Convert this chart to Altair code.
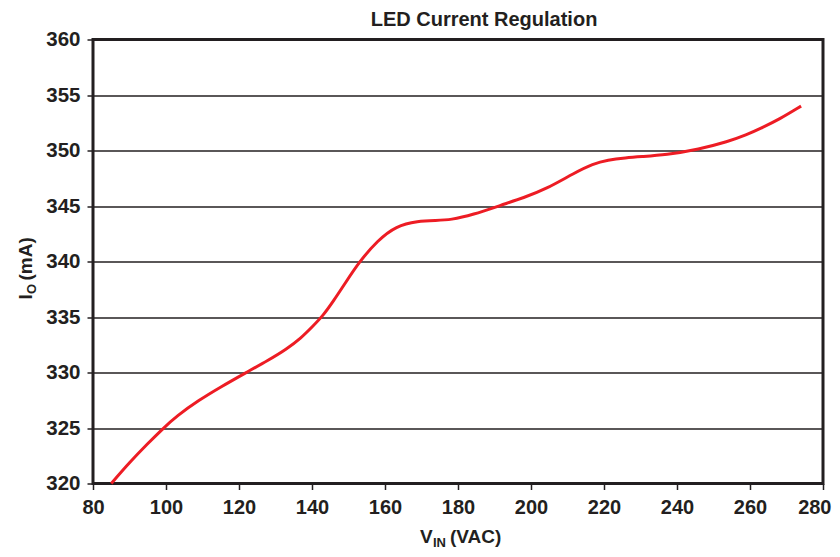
import altair as alt
import pandas as pd

# ---- data ----
vin = [85, 90, 95, 99, 103, 109, 115, 122, 128, 133, 137, 140, 143, 146, 149,
       153, 158, 163, 169, 174, 178, 184, 192, 198, 204, 212, 217, 221, 226,
       230, 237, 246, 254, 259, 263, 268, 274]
io = [320.0, 321.9, 323.6, 324.9, 326.1, 327.5, 328.7, 330.0, 331.1, 332.1,
      333.1, 334.1, 335.1, 336.5, 338.0, 340.0, 341.9, 343.2, 343.65, 343.7,
      343.75, 344.2, 345.1, 345.75, 346.5, 348.0, 348.8, 349.15, 349.35, 349.45,
      349.6, 350.1, 350.8, 351.4, 352.0, 352.8, 354.0]
x_ticks = [80, 100, 120, 140, 160, 180, 200, 220, 240, 260, 280]
y_ticks = [320, 325, 330, 335, 340, 345, 350, 355, 360]

title_text = "LED Current Regulation"
FONT = "Liberation Sans"
INK = "#231f20"

df = pd.DataFrame({"vin": vin, "io": io})

W, H = 730, 444

x_enc = alt.X("vin:Q",
              scale=alt.Scale(domain=[80, 280], nice=False, zero=False),
              axis=alt.Axis(values=x_ticks, title=None, grid=False,
                            labelFontSize=20, labelFontWeight="bold",
                            labelFont=FONT, labelColor=INK, labelFlush=False,
                            labelOverlap=False,
                            labelAlign=alt.ExprRef(expr="datum.value == 280 ? 'right' : 'center'"),
                            labelOffset=alt.ExprRef(expr="datum.value == 280 ? 8 : 0"),
                            tickSize=6, tickWidth=1.5, tickColor=INK,
                            labelPadding=8, domain=False))
y_enc = alt.Y("io:Q",
              scale=alt.Scale(domain=[320, 360], nice=False, zero=False),
              axis=alt.Axis(values=y_ticks, title=None, grid=True,
                            gridColor=INK, gridWidth=1.5, gridOpacity=1,
                            labelFontSize=20.5, labelFontWeight="bold",
                            labelFont=FONT, labelColor=INK, labelFlush=False,
                            labelOverlap=False,
                            tickSize=6, tickWidth=1.5, tickColor=INK,
                            labelPadding=7, domain=False))

line = alt.Chart(df).mark_line(color="#ed1c24", strokeWidth=3,
                               interpolate="basis").encode(x=x_enc, y=y_enc)

def txt(s, x, y, size, angle=0, align="left"):
    return alt.Chart(pd.DataFrame({"t": [s]})).mark_text(
        font=FONT, fontSize=size, fontWeight="bold", color=INK,
        align=align, baseline="alphabetic", angle=angle
    ).encode(text="t:N", x=alt.value(x), y=alt.value(y))

texts = [
    txt(title_text, 391, -13.5, 20, align="center"),
    # x axis title: V_IN (VAC)
    txt("V", 327, 503.5, 19),
    txt("IN", 340, 507, 13),
    txt("(VAC)", 357, 503.5, 19),
    # y axis title: I_O (mA), rotated
    txt("I", -61.5, 260, 19, angle=270),
    txt("O", -57.5, 254.5, 13, angle=270),
    txt("(mA)", -61.5, 241, 19, angle=270),
]

chart = alt.layer(line, *texts).properties(
    width=W, height=H,
    autosize=alt.AutoSizeParams(type="none"),
    padding={"left": 85, "top": 31.5, "right": 9, "bottom": 65.5},
).configure(background="white").configure_view(stroke=INK, strokeWidth=3)

chart.save("out.html", embed_options={"renderer": "svg", "actions": False})
